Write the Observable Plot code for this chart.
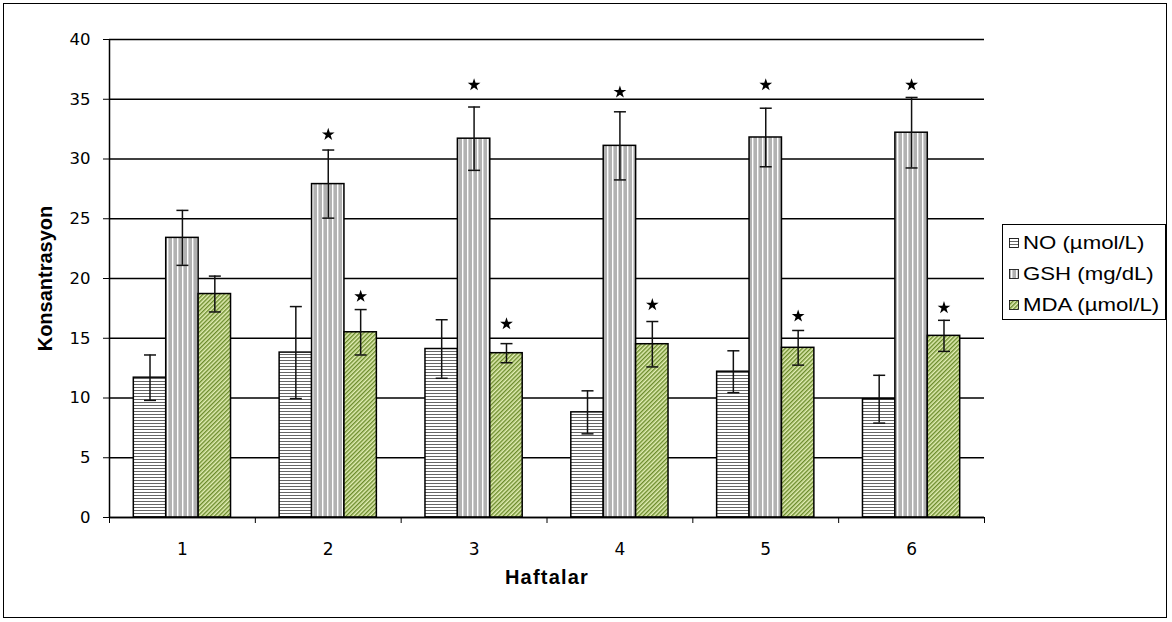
<!DOCTYPE html>
<html>
<head>
<meta charset="utf-8">
<script src="https://cdn.jsdelivr.net/npm/d3@7"></script>
<script src="https://cdn.jsdelivr.net/npm/@observablehq/plot@0.6"></script>
<style>
  html, body { margin: 0; padding: 0; background: #fff; }
  #wrap { position: relative; width: 1172px; height: 622px; overflow: hidden; }
  #border { position: absolute; left: 3px; top: 3px; width: 1164px; height: 615px; box-sizing: border-box; border: 1.5px solid #000; pointer-events: none; }
  #legend { position: absolute; left: 1002px; top: 224px; width: 164px; height: 96px; box-sizing: border-box; border: 1px solid #000; background: #fff; padding-top: 2px; }
  .row { height: 31px; display: flex; align-items: center; padding-left: 6px; }
  .row svg { flex: none; }
  .row span { font-family: "Liberation Sans", Arial, sans-serif; font-size: 18.5px; color: #000; margin-left: 4px; display: inline-block; transform: scaleX(1.2); transform-origin: left center; white-space: nowrap; }
</style>
</head>
<body>
<svg width="0" height="0" style="position:absolute">
  <defs>
    <pattern id="patNO" patternUnits="userSpaceOnUse" width="6" height="3">
      <rect width="6" height="3" fill="#ffffff"/>
      <rect y="0" width="6" height="1" fill="#666666"/>
    </pattern>
    <pattern id="patGSH" patternUnits="userSpaceOnUse" width="5" height="6">
      <rect width="5" height="6" fill="#b2b2b2"/>
      <rect x="2" width="1.4" height="6" fill="#ffffff"/>
    </pattern>
    <pattern id="patMDA" patternUnits="userSpaceOnUse" width="3" height="3" patternTransform="rotate(45)">
      <rect width="3" height="3" fill="#e2eeb4"/>
      <rect width="1.4" height="3" fill="#6b8b2b"/>
    </pattern>
  </defs>
</svg>
<div id="wrap">
  <div id="chart"></div>
  <div id="legend"></div>
  <div id="border"></div>
</div>
<script>
// ---- data ----
const weeks = [1, 2, 3, 4, 5, 6];
const seriesKeys = ["NO", "GSH", "MDA"];
const seriesNames = ["NO (µmol/L)", "GSH (mg/dL)", "MDA (µmol/L)"];
const noMean  = [11.7, 13.8, 14.1, 8.8, 12.2, 9.9];
const noErr   = [1.9, 3.85, 2.45, 1.8, 1.75, 2.0];
const gshMean = [23.4, 27.9, 31.7, 31.1, 31.8, 32.2];
const gshErr  = [2.3, 2.85, 2.65, 2.85, 2.45, 2.95];
const mdaMean = [18.7, 15.5, 13.75, 14.5, 14.2, 15.2];
const mdaErr  = [1.5, 1.9, 0.8, 1.9, 1.45, 1.3];
const noStar  = [null, null, null, null, null, null];
const gshStar = [null, 32.05, 36.2, 35.6, 36.2, 36.2];
const mdaStar = [null, 18.5, 16.2, 17.8, 16.85, 17.55];
const yTicks = [0, 5, 10, 15, 20, 25, 30, 35, 40];
const xLabel = "Haftalar";
const yLabel = "Konsantrasyon";
const fills = ["url(#patNO)", "url(#patGSH)", "url(#patMDA)"];

// ---- build table ----
const means = [noMean, gshMean, mdaMean];
const errs = [noErr, gshErr, mdaErr];
const stars = [noStar, gshStar, mdaStar];
const bw = 1 / 4.5; // bar width in week units (gap width 150%)
const rows = seriesKeys.flatMap((key, i) => weeks.map((wk, j) => ({
  week: wk, series: key, i,
  mean: means[i][j], err: errs[i][j], star: stars[i][j],
  x1: wk - 1.5 * bw + i * bw,
  x2: wk - 1.5 * bw + (i + 1) * bw,
  xc: wk - 1.5 * bw + (i + 0.5) * bw
})));
const boundaries = weeks.map(w => w - 0.5).concat([weeks[weeks.length - 1] + 0.5]);

const capSymbol = {
  draw(ctx, size) {
    const r = Math.sqrt(size / Math.PI);
    ctx.moveTo(-r, 0);
    ctx.lineTo(r, 0);
  }
};

const chart = Plot.plot({
  width: 1172,
  height: 622,
  marginLeft: 109,
  marginRight: 188,
  marginTop: 39,
  marginBottom: 105,
  style: { fontFamily: "DejaVu Sans, sans-serif", fontSize: "16px", color: "#000", background: "transparent" },
  x: { type: "linear", domain: [0.5, 6.5], axis: null },
  y: { domain: [0, 40], axis: null },
  marks: [
    Plot.gridY(yTicks, { stroke: "#000", strokeOpacity: 1, strokeWidth: 1.3 }),
    ...seriesKeys.map((key, i) => Plot.rectY(rows.filter(d => d.series === key), {
      x1: "x1", x2: "x2", y1: 0, y2: "mean",
      fill: fills[i], stroke: "#000", strokeWidth: 1.5
    })),
    Plot.ruleX(rows, { x: "xc", y1: d => d.mean - d.err, y2: d => d.mean + d.err, stroke: "#111", strokeWidth: 1.5 }),
    Plot.dot(rows, { x: "xc", y: d => d.mean + d.err, symbol: capSymbol, r: 6, fill: "none", stroke: "#111", strokeWidth: 1.5 }),
    Plot.dot(rows, { x: "xc", y: d => d.mean - d.err, symbol: capSymbol, r: 6, fill: "none", stroke: "#111", strokeWidth: 1.5 }),
    Plot.ruleY([0], { stroke: "#000", strokeWidth: 1.5 }),
    Plot.ruleX([0.5], { stroke: "#000", strokeWidth: 1.5 }),
    Plot.axisY(yTicks, { tickSize: 6, tickPadding: 13, fontSize: 16.5, label: null, stroke: "#000" }),
    Plot.axisX(boundaries, { tickSize: 6, tickFormat: () => "", label: null, stroke: "#000" }),
    Plot.axisX(weeks, { tickSize: 0, tickPadding: 25, fontSize: 17, tickFormat: d => String(d), label: null }),
    Plot.dot(rows.filter(d => d.star != null), { x: "xc", y: "star", symbol: "star", r: 4, fill: "#000", stroke: "none" }),
    Plot.text([yLabel], { text: d => d, frameAnchor: "left", textAnchor: "middle", dx: -64, rotate: -90, fontWeight: "bold", fontSize: 20, fontFamily: "Liberation Sans, Arial, sans-serif" }),
    Plot.text([xLabel], { text: d => d, frameAnchor: "bottom", textAnchor: "middle", dy: 66, fontWeight: "bold", fontSize: 20, fontFamily: "Liberation Sans, Arial, sans-serif" })
  ]
});
d3.select(chart).selectAll("text").filter(function () { return this.textContent === xLabel; })
  .style("letter-spacing", "1.2px");
document.getElementById("chart").appendChild(chart);

// ---- legend ----
const legend = d3.select("#legend");
seriesNames.forEach((name, i) => {
  const row = legend.append("div").attr("class", "row");
  const sw = row.append("svg").attr("width", 10).attr("height", 10);
  sw.append("rect").attr("x", 0.5).attr("y", 0.5).attr("width", 9).attr("height", 9)
    .attr("fill", fills[i]).attr("stroke", "#000").attr("stroke-width", 0.8);
  row.append("span").text(name);
});
</script>
</body>
</html>
